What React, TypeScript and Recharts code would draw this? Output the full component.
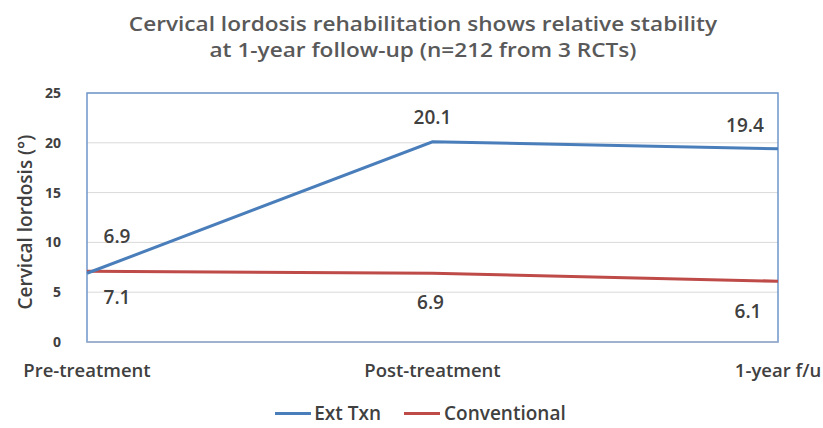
import React from "react";
import { LineChart, Line, XAxis, YAxis, CartesianGrid, ReferenceArea, LabelList } from "recharts";

const categories = ["Pre-treatment", "Post-treatment", "1-year f/u"];
const extTxn = [6.9, 20.1, 19.4];
const conventional = [7.1, 6.9, 6.1];
const yTicks = [0, 5, 10, 15, 20, 25];

const data = categories.map((c, i) => ({ name: c, ext: extTxn[i], conv: conventional[i] }));

const FONT = "'Open Sans', 'Liberation Sans', sans-serif";
const TXT = "#404040";
const BLUE = "#4a7ebb";
const RED = "#be4b48";

const extOffsets = [
  { dx: 30, dy: -37 },
  { dx: 0, dy: -25 },
  { dx: -33, dy: -24 },
];
const convOffsets = [
  { dx: 30, dy: 26 },
  { dx: -2, dy: 29 },
  { dx: -30, dy: 30 },
];

const makeLabel = (offsets: { dx: number; dy: number }[], key: string) => (props: any) => {
  const { x, y, index, value } = props;
  const o = offsets[index] || { dx: 0, dy: 0 };
  return (
    <text
      key={key + index}
      x={x + o.dx}
      y={y + o.dy}
      textAnchor="middle"
      dominantBaseline="central"
      fontFamily={FONT}
      fontSize={19}
      fontWeight={600}
      fill={TXT}
    >
      {Number(value).toFixed(1)}
    </text>
  );
};

const LegendBlock = () => (
  <div
    style={{
      position: "absolute",
      left: 0,
      top: 400,
      width: 841,
      display: "flex",
      justifyContent: "center",
      alignItems: "center",
      fontFamily: FONT,
      fontSize: 19,
      fontWeight: 600,
      color: TXT,
      gap: 23,
      lineHeight: "26px",
    }}
  >
    <span style={{ display: "flex", alignItems: "center" }}>
      <span style={{ width: 36, height: 3, background: BLUE, display: "inline-block", marginRight: 3 }} />
      Ext Txn
    </span>
    <span style={{ display: "flex", alignItems: "center" }}>
      <span style={{ width: 36, height: 3, background: RED, display: "inline-block", marginRight: 4 }} />
      Conventional
    </span>
  </div>
);

export default function App() {
  return (
    <div style={{ position: "absolute", left: 0, top: 0, width: 823, height: 428, background: "#fff", overflow: "hidden" }}>
      <div
        style={{
          position: "absolute",
          left: 0,
          top: 11,
          width: 846,
          textAlign: "center",
          fontFamily: FONT,
          fontSize: 20,
          fontWeight: 600,
          color: "#595959",
          lineHeight: "26px",
          transform: "scaleX(1.13)",
          transformOrigin: "423px 0px",
        }}
      >
        Cervical lordosis rehabilitation shows relative stability
        <br />
        at 1-year follow-up (n=212 from 3 RCTs)
      </div>
      <LineChart width={823} height={428} data={data} margin={{ top: 93, right: 45, bottom: 56, left: 20 }}>
        <CartesianGrid vertical={false} stroke="#d9d9d9" />
        <XAxis
          dataKey="name"
          interval={0}
          tickLine={false}
          axisLine={{ stroke: "#b0b8c8" }}
          tick={{ fontFamily: FONT, fontSize: 18.5, fontWeight: 600, fill: TXT }}
          tickMargin={16}
        />
        <YAxis
          domain={[0, 25]}
          ticks={yTicks}
          width={67}
          tickLine={false}
          axisLine={false}
          tick={{ fontFamily: FONT, fontSize: 14, fontWeight: 700, fill: TXT }}
          tickMargin={20}
          label={{
            value: "Cervical lordosis (°)",
            angle: -90,
            position: "insideLeft",
            dx: 0,
            dy: 92,
            style: { fontFamily: FONT, fontSize: 19, fontWeight: 600, fill: TXT },
          }}
        />
        <ReferenceArea
          x1="Pre-treatment"
          x2="1-year f/u"
          y1={0}
          y2={25}
          fill="none"
          stroke="#6f95cc"
          strokeWidth={1.5}
        />
        <Line
          type="linear"
          dataKey="conv"
          name="Conventional"
          stroke={RED}
          strokeWidth={3}
          dot={false}
          isAnimationActive={false}
        >
          <LabelList dataKey="conv" content={makeLabel(convOffsets, "c")} />
        </Line>
        <Line
          type="linear"
          dataKey="ext"
          name="Ext Txn"
          stroke={BLUE}
          strokeWidth={3}
          dot={false}
          isAnimationActive={false}
        >
          <LabelList dataKey="ext" content={makeLabel(extOffsets, "e")} />
        </Line>
      </LineChart>
      <LegendBlock />
    </div>
  );
}
